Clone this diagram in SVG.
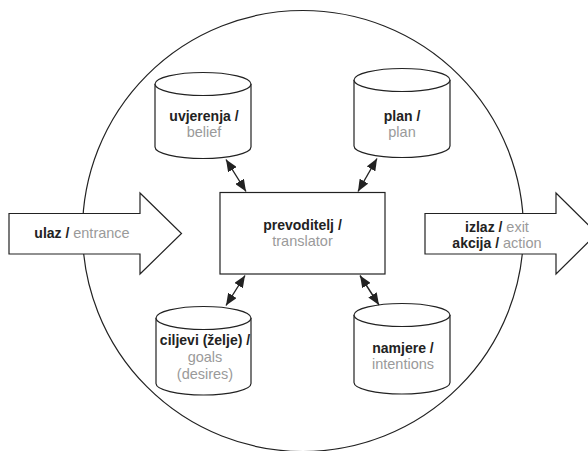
<svg xmlns="http://www.w3.org/2000/svg" width="588" height="451" viewBox="0 0 588 451">
  <style>
    .shape { fill: #fff; stroke: #222; stroke-width: 1.2; }
    .lbl { font-family: "Liberation Sans", Arial, sans-serif; font-size: 14px; text-anchor: middle; }
    .blk { fill: #222; font-weight: bold; }
    .gry { fill: #9a9a9a; font-size: 14.5px; }
    .conn { stroke: #222; stroke-width: 1.4; fill: none; marker-start: url(#ah); marker-end: url(#ah); }
  </style>
  <defs>
    <marker id="ah" markerUnits="userSpaceOnUse" markerWidth="13" markerHeight="10" refX="12" refY="5" orient="auto-start-reverse">
      <path d="M0,0 L12,5 L0,10 z" fill="#222"/>
    </marker>
  </defs>
  <rect width="588" height="451" fill="#fff"/>

  <circle id="boundary" cx="303" cy="231" r="220.5" fill="none" stroke="#222" stroke-width="1.2"/>

  <g id="entrance">
    <polygon class="shape" points="9,213.5 140,213.5 140,193 181.5,233.5 140,274 140,254 9,254"/>
    <text class="lbl" x="82" y="238"><tspan class="blk">ulaz / </tspan><tspan class="gry">entrance</tspan></text>
  </g>

  <g id="exit">
    <polygon class="shape" points="425,213.5 556,213.5 556,193 597,233.5 556,274 556,254 425,254"/>
    <text class="lbl" x="497" y="231.5"><tspan class="blk">izlaz / </tspan><tspan class="gry">exit</tspan></text>
    <text class="lbl" x="497" y="248"><tspan class="blk">akcija / </tspan><tspan class="gry">action</tspan></text>
  </g>

  <g id="belief">
    <path class="shape" d="M155,84 L155,147 A48,11.5 0 0 0 251,147 L251,84"/>
    <ellipse class="shape" cx="203" cy="84" rx="48" ry="11.5"/>
    <text class="lbl blk" x="204" y="120.5">uvjerenja /</text>
    <text class="lbl gry" x="204" y="136.5">belief</text>
  </g>

  <g id="plan">
    <path class="shape" d="M354,80 L354,146 A48,11.5 0 0 0 450,146 L450,80"/>
    <ellipse class="shape" cx="402" cy="80" rx="48" ry="11.5"/>
    <text class="lbl blk" x="402" y="120.5">plan /</text>
    <text class="lbl gry" x="402" y="136.5">plan</text>
  </g>

  <g id="goals">
    <path class="shape" d="M156,318 L156,383.5 A47.5,11.5 0 0 0 251,383.5 L251,318"/>
    <ellipse class="shape" cx="203.5" cy="318" rx="47.5" ry="11.5"/>
    <text class="lbl blk" x="205" y="345">ciljevi (želje) /</text>
    <text class="lbl gry" x="205" y="362">goals</text>
    <text class="lbl gry" x="205" y="378.5">(desires)</text>
  </g>

  <g id="intentions">
    <path class="shape" d="M354,315 L354,382.5 A48,11.5 0 0 0 450,382.5 L450,315"/>
    <ellipse class="shape" cx="402" cy="315" rx="48" ry="11.5"/>
    <text class="lbl blk" x="403" y="352.5">namjere /</text>
    <text class="lbl gry" x="403" y="368.5">intentions</text>
  </g>

  <g id="translator">
    <rect class="shape" x="220" y="192.5" width="165" height="81.5"/>
    <text class="lbl blk" x="302.5" y="229.5">prevoditelj /</text>
    <text class="lbl gry" x="302.5" y="245.5">translator</text>
  </g>

  <g id="connectors">
    <line class="conn" x1="226" y1="159.5" x2="246" y2="191.5"/>
    <line class="conn" x1="377" y1="158.5" x2="358" y2="191.5"/>
    <line class="conn" x1="245" y1="275.5" x2="226" y2="305.5"/>
    <line class="conn" x1="360" y1="275.5" x2="379" y2="305"/>
  </g>
</svg>
